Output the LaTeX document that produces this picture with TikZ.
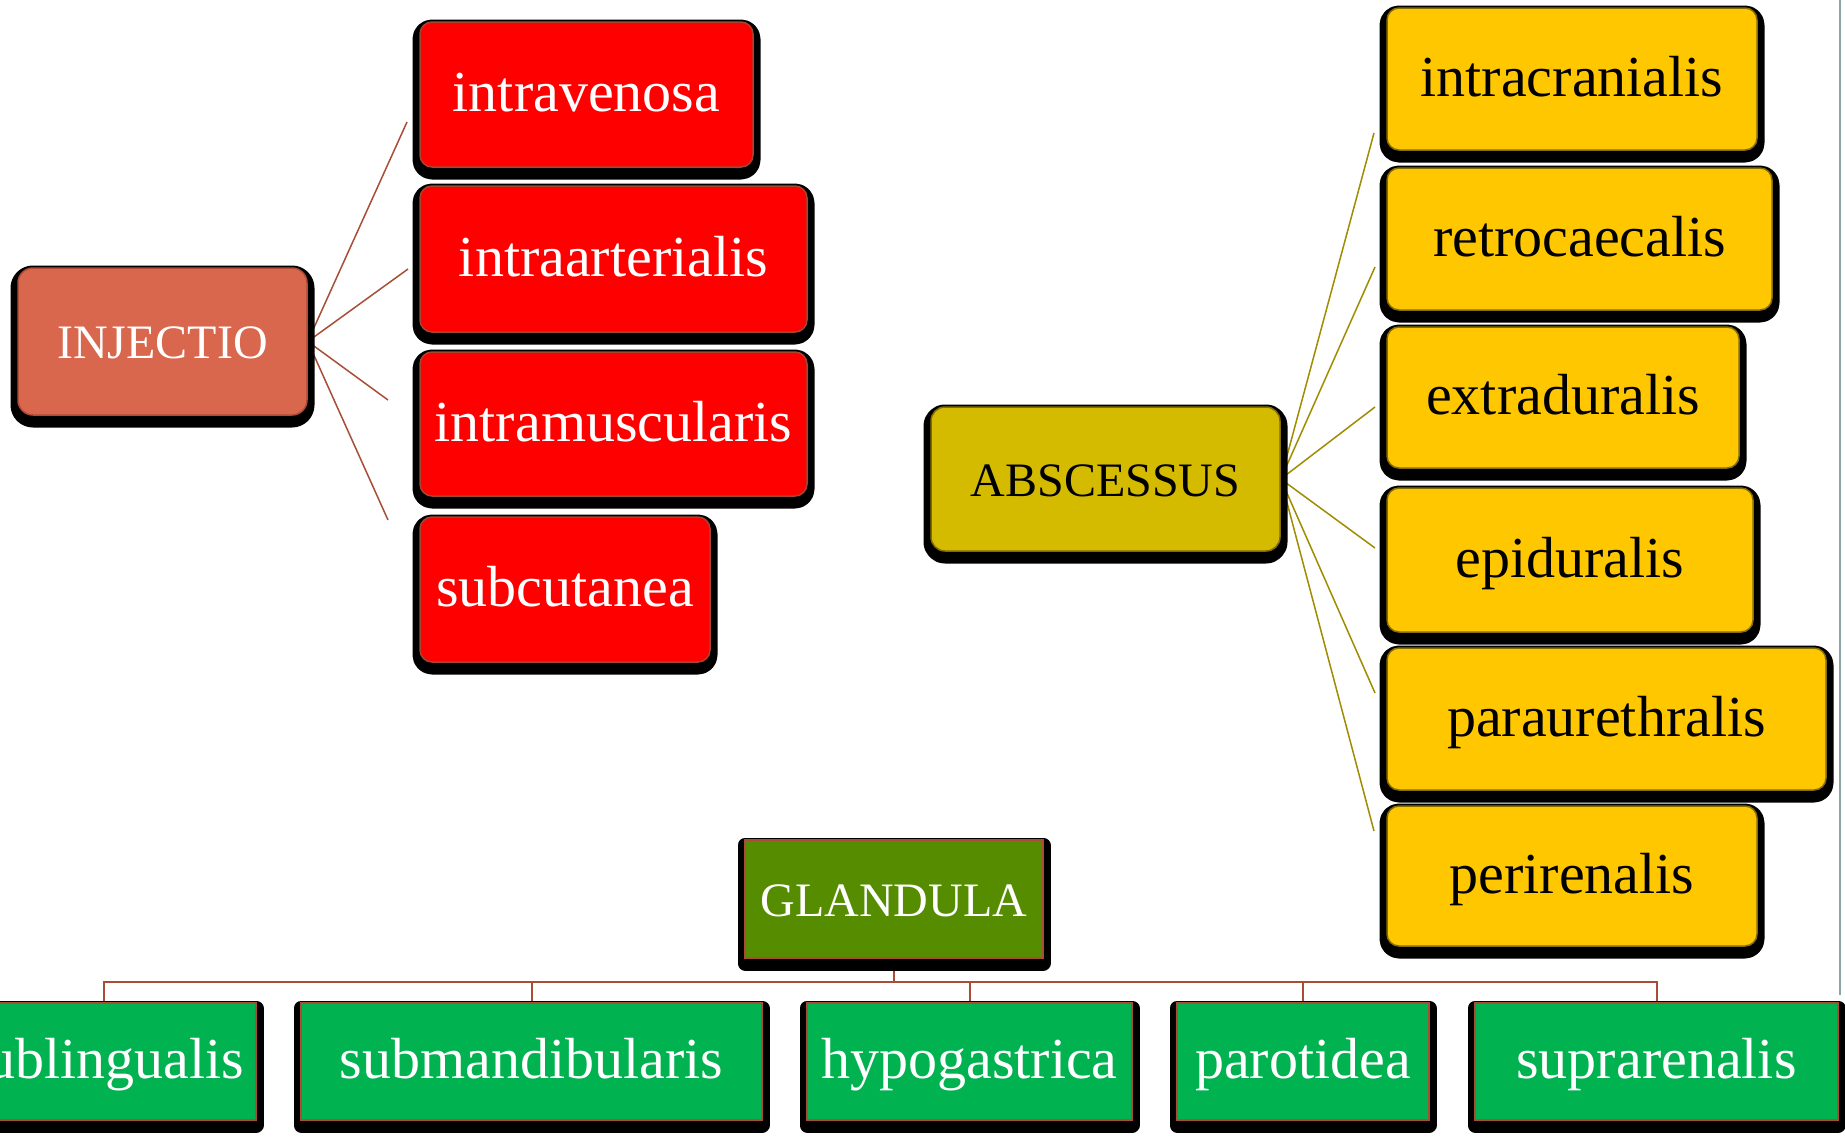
\documentclass[tikz,border=0pt]{standalone}
\usepackage{fontspec}
\setmainfont{Liberation Serif}
\usetikzlibrary{shadows,backgrounds}
\definecolor{injfill}{RGB}{217,103,77}
\definecolor{injborder}{RGB}{175,75,55}
\definecolor{redfill}{RGB}{255,0,0}
\definecolor{redborder}{RGB}{165,70,50}
\definecolor{absfill}{RGB}{212,187,0}
\definecolor{absborder}{RGB}{130,110,0}
\definecolor{yelfill}{RGB}{255,199,0}
\definecolor{yelborder}{RGB}{135,110,0}
\definecolor{glafill}{RGB}{86,141,0}
\definecolor{grnfill}{RGB}{0,178,80}
\definecolor{brownline}{RGB}{168,78,55}
\definecolor{oliveline}{RGB}{160,140,0}
\definecolor{edgegray}{RGB}{140,165,165}
\tikzset{
  box/.style={inner sep=0pt, text height=34pt, text depth=0pt, line width=1.5pt,
    general shadow={draw=black, fill=black, line width=15pt, line join=round, shadow yshift=-5pt}},
  capsfont/.style={font=\fontsize{48}{56}\selectfont},
  lowfont/.style={font=\fontsize{58}{68}\selectfont},
  injbox/.style={box, capsfont, rounded corners=15pt, fill=injfill, draw=injborder, text=white},
  redbox/.style={box, lowfont, rounded corners=12pt, fill=redfill, draw=redborder, text=white},
  absbox/.style={box, capsfont, rounded corners=14pt, fill=absfill, draw=absborder, text=black},
  yelbox/.style={box, lowfont, rounded corners=12pt, fill=yelfill, draw=yelborder, text=black},
  glabox/.style={box, capsfont, fill=glafill, draw=brownline, line width=2pt, text=white},
  grnbox/.style={box, lowfont, fill=grnfill, draw=brownline, line width=2pt, text=white},
  injline/.style={draw=brownline, line width=1.5pt},
  absline/.style={draw=oliveline, line width=1.5pt},
  glaline/.style={draw=brownline, line width=2pt},
}
\begin{document}
\begin{tikzpicture}[x=1pt, y=-1pt]
\useasboundingbox (0,0) rectangle (1845,1138);

% INJECTIO group
\node[injbox, minimum width=289pt, minimum height=147pt] (inj) at (162.5,341.5) {INJECTIO};
\node[redbox, minimum width=333pt, minimum height=145pt] (iv) at (586.5,94.5) {intravenosa};
\node[redbox, minimum width=387pt, minimum height=146pt] (ia) at (613.5,259) {intraarterialis};
\node[redbox, minimum width=387pt, minimum height=144pt] (im) at (613.5,424) {intramuscularis};
\node[redbox, minimum width=290pt, minimum height=145pt] (sc) at (565,589.5) {subcutanea};
\coordinate (i1) at (407,122);
\coordinate (i2) at (408,269);
\coordinate (i3) at (388,400);
\coordinate (i4) at (388,520);

% ABSCESSUS group
\node[absbox, minimum width=349pt, minimum height=144pt] (abs) at (1105.5,479) {ABSCESSUS};
\node[yelbox, minimum width=370pt, minimum height=142pt] (y1) at (1572,79) {intracranialis};
\node[yelbox, minimum width=385pt, minimum height=142pt] (y2) at (1579.5,239) {retrocaecalis};
\node[yelbox, minimum width=352pt, minimum height=141pt] (y3) at (1563,397.5) {extraduralis};
\node[yelbox, minimum width=366pt, minimum height=144pt] (y4) at (1570,560) {epiduralis};
\node[yelbox, minimum width=439pt, minimum height=142pt] (y5) at (1606.5,719) {paraurethralis};
\node[yelbox, minimum width=370pt, minimum height=140pt] (y6) at (1572,876) {perirenalis};
\coordinate (a1) at (1374,133);
\coordinate (a2) at (1375,267);
\coordinate (a3) at (1375,407);
\coordinate (a4) at (1375,548);
\coordinate (a5) at (1375,693);
\coordinate (a6) at (1374,831);

% GLANDULA group
\node[glabox, minimum width=298pt, minimum height=118pt] (gla) at (894,899) {GLANDULA};
\node[grnbox, minimum width=304pt, minimum height=117pt] (g1) at (104,1061.5) {sublingualis};
\node[grnbox, minimum width=461pt, minimum height=117pt] (g2) at (531.5,1061.5) {submandibularis};
\node[grnbox, minimum width=325pt, minimum height=117pt] (g3) at (969.5,1061.5) {hypogastrica};
\node[grnbox, minimum width=252pt, minimum height=117pt] (g4) at (1303,1061.5) {parotidea};
\node[grnbox, minimum width=363pt, minimum height=117pt] (g5) at (1656.5,1061.5) {suprarenalis};
\coordinate (bus) at (894,982);

% slide edge
\draw[edgegray, line width=2pt] (1840,0) -- (1840,995);

\begin{scope}[on background layer]
  \fill[white] (0,0) rectangle (1845,1138);
  \foreach \t in {i1,i2,i3,i4} \draw[injline] (inj.east) -- (\t);
  \foreach \t in {a1,a2,a3,a4,a5,a6} \draw[absline] (abs.east) -- (\t);
  \draw[glaline] (gla.south) -- (bus);
  \draw[glaline] (g1.north) |- (bus) -| (g5.north);
  \foreach \t in {g2,g3,g4} \draw[glaline] (\t.north) |- (bus);
\end{scope}
\end{tikzpicture}
\end{document}
